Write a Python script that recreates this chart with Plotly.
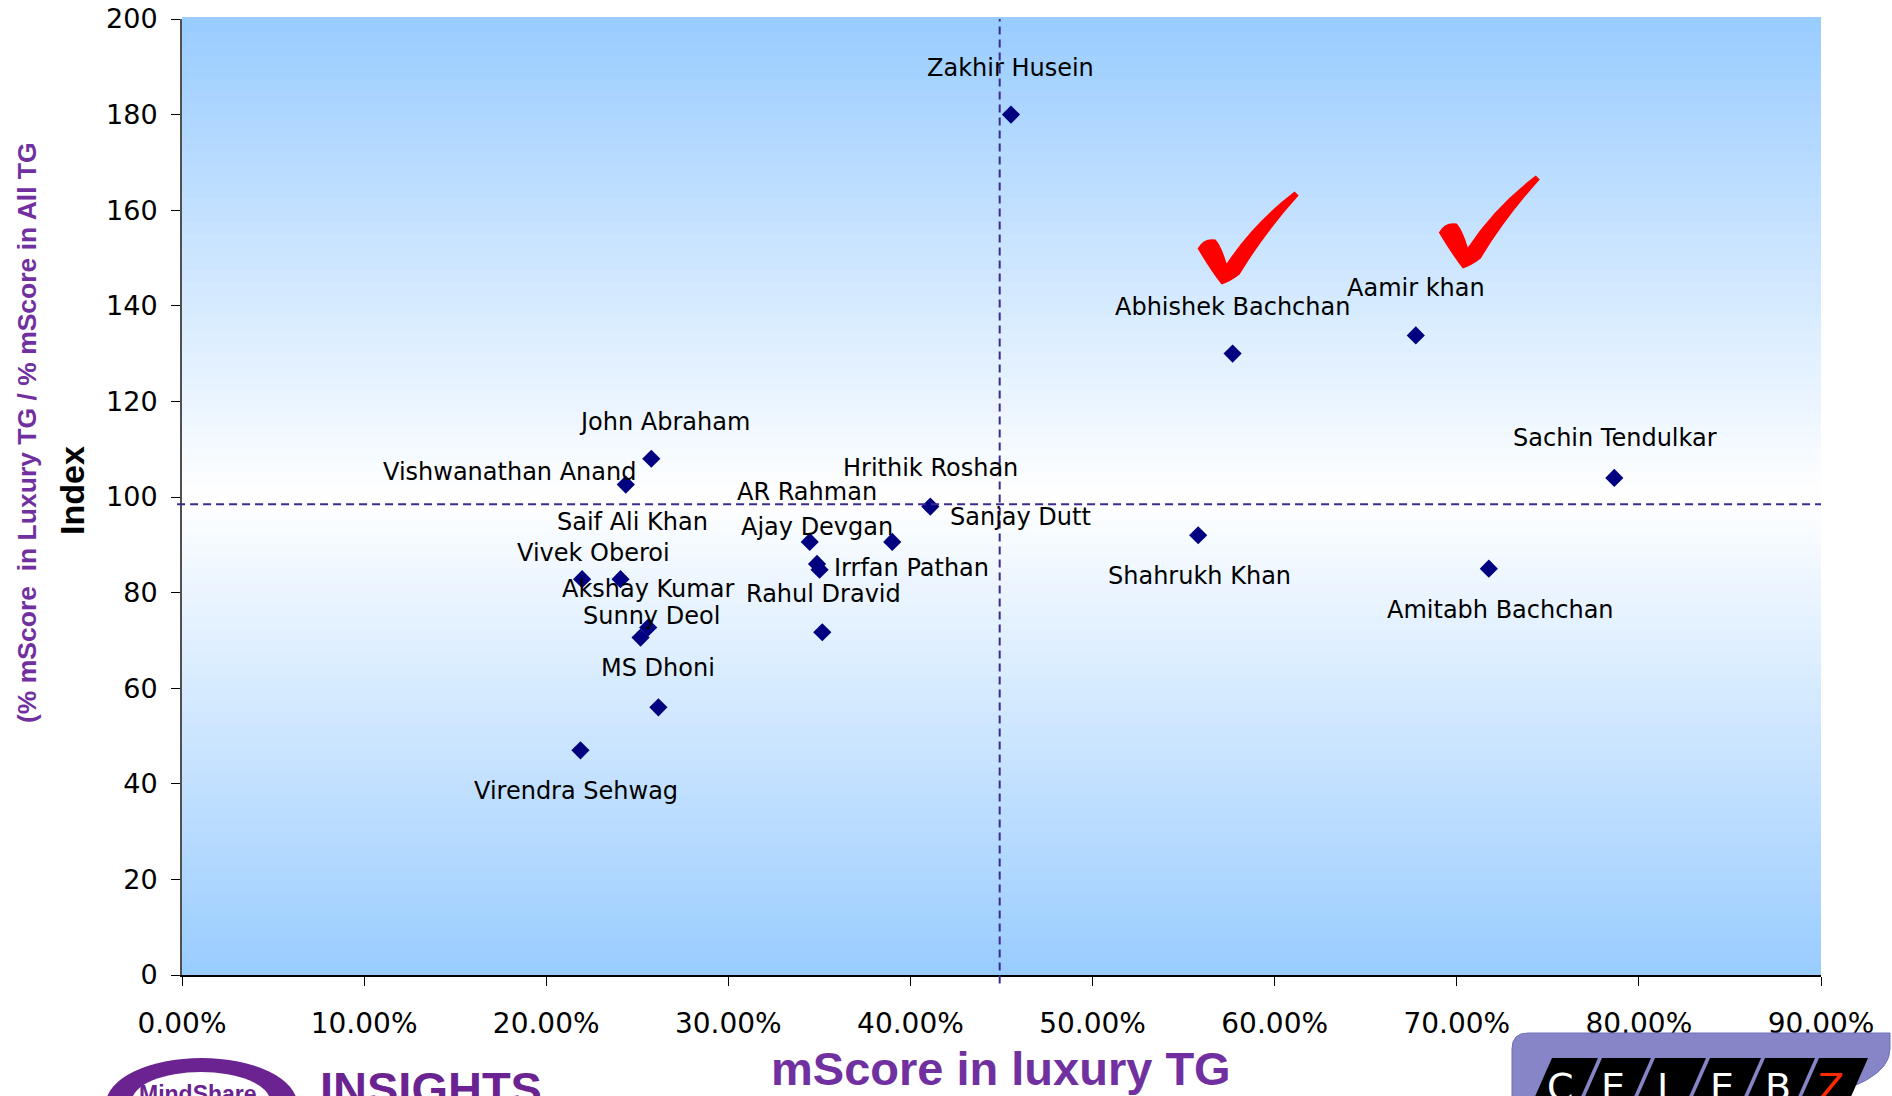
import plotly.graph_objects as go

# ---------------- data ----------------
names = ["Zakhir Husein", "Abhishek Bachchan", "Aamir khan", "Sachin Tendulkar",
         "Shahrukh Khan", "Amitabh Bachchan", "John Abraham", "Vishwanathan Anand",
         "Hrithik Roshan", "AR Rahman", "Sanjay Dutt", "Ajay Devgan", "Irrfan Pathan",
         "Rahul Dravid", "Vivek Oberoi", "Saif Ali Khan", "Akshay Kumar", "Sunny Deol",
         "MS Dhoni", "Virendra Sehwag"]
mscore_luxury = [0.4552, 0.5769, 0.6775, 0.7865, 0.558, 0.7176, 0.2577, 0.2437,
                 0.4109, 0.3447, 0.3900, 0.3487, 0.3501, 0.3516, 0.2197, 0.2408,
                 0.2560, 0.2518, 0.2616, 0.2188]
index_vals = [180, 130, 133.8, 104, 92, 85, 108, 102.6,
              98, 90.6, 90.6, 86, 84.8, 71.7, 82.8, 82.8,
              72.7, 70.6, 56, 47]
ref_x = 0.449      # vertical dashed reference
ref_y = 98.5       # horizontal dashed reference
x_ticks = [0.0, 0.1, 0.2, 0.3, 0.4, 0.5, 0.6, 0.7, 0.8, 0.9]
y_ticks = [0, 20, 40, 60, 80, 100, 120, 140, 160, 180, 200]
ticked = ["Abhishek Bachchan", "Aamir khan"]

# ---------------- styling ----------------
W, H = 1892, 1096
L, R, T, B = 182, 71, 19, 121
PW, PH = W - L - R, H - T - B

def px(x):
    return (x - L) / PW

def py(y):
    return (H - B - y) / PH

# label offsets in screen pixels (dx, dy downwards, anchor)
label_style = {
    "Zakhir Husein": (0, -47, "center"),
    "Abhishek Bachchan": (0, -47, "center"),
    "Aamir khan": (0, -47, "center"),
    "Sachin Tendulkar": (1, -40, "center"),
    "Shahrukh Khan": (1, 41, "center"),
    "Amitabh Bachchan": (12, 41, "center"),
    "John Abraham": (13, -37, "center"),
    "Vishwanathan Anand": (12, -13, "right"),
    "Hrithik Roshan": (0, -39, "center"),
    "AR Rahman": (-3, -50, "center"),
    "Sanjay Dutt": (56, -25, "left"),
    "Ajay Devgan": (0, -37, "center"),
    "Irrfan Pathan": (12, -2, "left"),
    "Rahul Dravid": (1, -38, "center"),
    "Vivek Oberoi": (11, -26, "center"),
    "Saif Ali Khan": (12, -57, "center"),
    "Akshay Kumar": (0, -38, "center"),
    "Sunny Deol": (11, -22, "center"),
    "MS Dhoni": (0, -39, "center"),
    "Virendra Sehwag": (-4, 41, "center"),
}
check_offsets = {"Abhishek Bachchan": (-11, 69), "Aamir khan": (47, 67)}

PURPLE = "#7030A0"
fig = go.Figure()

fig.add_trace(go.Scatter(
    x=mscore_luxury, y=index_vals, mode="markers",
    marker=dict(symbol="diamond", size=14, color="#000080"),
    hoverinfo="text", text=names, showlegend=False,
))

shapes = []
# gradient background bands
N = 80
c_edge = (153, 204, 255)
for i in range(N):
    f0, f1 = i / N, (i + 1) / N
    fm = (f0 + f1) / 2
    t = abs(fm - 0.5) * 2
    col = tuple(round(255 + (c - 255) * t) for c in c_edge)
    shapes.append(dict(type="rect", xref="paper", yref="paper", x0=0, x1=1,
                       y0=f0, y1=f1 + 0.002, layer="below", line=dict(width=0),
                       fillcolor="rgb(%d,%d,%d)" % col))

# dashed reference lines
shapes.append(dict(type="line", xref="paper", yref="y", x0=-0.003, x1=1, y0=ref_y, y1=ref_y,
                   line=dict(color="#3C2A8C", width=2, dash="8px,5px")))
shapes.append(dict(type="line", xref="x", yref="paper", x0=ref_x, x1=ref_x, y0=-0.009, y1=1,
                   line=dict(color="#3C2A8C", width=2, dash="8px,5px")))

# check marks (pixel-sized, anchored to their points)
def check_path(ox, oy):
    p = [("M", [(0, 0)]), ("Q", [(-11, 14), (-24, 36)]), ("Q", [(-18, 47), (-6, 45)]),
         ("Q", [(0, 38), (5, 21)]), ("Q", [(32, 62), (73, 93)]), ("L", [(77, 89)]),
         ("Q", [(42, 50), (18, 10)]), ("Q", [(9, 3), (0, 0)])]
    s = ""
    for cmd, pts in p:
        s += cmd + " " + " ".join("%g,%g" % (ox + a, oy + b) for a, b in pts) + " "
    return s + "Z"

for nm in ticked:
    k = names.index(nm)
    ox, oy = check_offsets[nm]
    shapes.append(dict(type="path", xref="x", yref="y", xsizemode="pixel", ysizemode="pixel",
                       xanchor=mscore_luxury[k], yanchor=index_vals[k],
                       path=check_path(ox, oy), fillcolor="#FF0000", line=dict(width=0),
                       layer="above"))

# --- MindShare logo (bottom-left)
shapes.append(dict(type="circle", xref="paper", yref="paper",
                   x0=px(106), x1=px(297), y0=py(1150), y1=py(1058),
                   fillcolor="#6B2391", line=dict(width=0)))
shapes.append(dict(type="circle", xref="paper", yref="paper",
                   x0=px(132), x1=px(270), y0=py(1130), y1=py(1072),
                   fillcolor="white", line=dict(width=0)))

# --- CELEBZ logo (bottom-right)
def rrect(x0, y0, x1, y1, r):
    return ("M %g,%g L %g,%g Q %g,%g %g,%g L %g,%g L %g,%g L %g,%g Q %g,%g %g,%g Z" % (
        px(x0), py(y0 + r), px(x0), py(y1), px(x1), py(y1), px(x1), py(y0 + r),
        px(x1), py(y0), px(x1 - r), py(y0), px(x0 + r), py(y0), px(x0), py(y0), px(x0), py(y0 + r)))

shapes.append(dict(type="path", xref="paper", yref="paper", path=rrect(1512, 1033, 1890, 1120, 16),
                   fillcolor="#8585C8", line=dict(color="#7070B8", width=1)))
box_edges = [(1552, 1598), (1602, 1651), (1655, 1706), (1710, 1761), (1765, 1815), (1819, 1868)]
slant = 0.44
for a, b in box_edges:
    yb = 1120
    d = slant * (yb - 1058)
    path = "M %g,%g L %g,%g L %g,%g L %g,%g Z" % (px(a), py(1058), px(b), py(1058),
                                                  px(b - d), py(yb), px(a - d), py(yb))
    shapes.append(dict(type="path", xref="paper", yref="paper", path=path,
                       fillcolor="black", line=dict(width=0)))

annotations = []
for nm, xv, yv in zip(names, mscore_luxury, index_vals):
    dx, dy, anc = label_style[nm]
    annotations.append(dict(x=xv, y=yv, xref="x", yref="y", text=nm, showarrow=False,
                            xshift=dx, yshift=-dy, xanchor=anc, yanchor="middle",
                            font=dict(family="DejaVu Sans", size=24, color="black")))

annotations.append(dict(x=px(1001), y=py(1068), xref="paper", yref="paper",
                        text="<b>mScore in luxury TG</b>", showarrow=False,
                        xanchor="center", yanchor="middle",
                        font=dict(family="Liberation Sans", size=47, color=PURPLE)))
annotations.append(dict(x=px(72), y=py(491), xref="paper", yref="paper",
                        text="<b>Index</b>", showarrow=False, textangle=-90,
                        xanchor="center", yanchor="middle",
                        font=dict(family="Liberation Sans", size=34, color="black")))
annotations.append(dict(x=px(27), y=py(433), xref="paper", yref="paper",
                        text="<b>(% mScore  in Luxury TG / % mScore in All TG</b>", showarrow=False,
                        textangle=-90, xanchor="center", yanchor="middle",
                        font=dict(family="Liberation Sans", size=26.5, color=PURPLE)))
# logo texts
annotations.append(dict(x=px(198), y=py(1079), xref="paper", yref="paper",
                        text="<b>MindShare</b>", showarrow=False, xanchor="center", yanchor="top",
                        font=dict(family="Liberation Sans", size=23, color="#6B2391")))
annotations.append(dict(x=px(318), y=py(1060), xref="paper", yref="paper",
                        text="<b>INSIGHTS</b>", showarrow=False, xanchor="left", yanchor="top",
                        font=dict(family="Liberation Sans", size=47, color="#6B2391")))
for ch, cx, col in zip("CELEBZ", [1560, 1613, 1667, 1722, 1778, 1831],
                       ["white", "white", "white", "white", "white", "#FF2A00"]):
    annotations.append(dict(x=px(cx), y=py(1063), xref="paper", yref="paper",
                            text=ch, showarrow=False, xanchor="center", yanchor="top",
                            font=dict(family="DejaVu Sans", size=38, color=col)))

fig.update_layout(
    width=W, height=H,
    margin=dict(l=L, r=R, t=T, b=B, pad=0),
    paper_bgcolor="white", plot_bgcolor="white",
    shapes=shapes, annotations=annotations,
    xaxis=dict(range=[0, 0.9], tickvals=x_ticks, tickformat=".2%", automargin=False,
               showgrid=False, zeroline=False, showline=True, linecolor="black", linewidth=2,
               ticks="outside", ticklen=9, tickcolor="black", tickwidth=1,
               ticklabelstandoff=13,
               tickfont=dict(family="DejaVu Sans", size=28, color="black")),
    yaxis=dict(range=[0, 200], tickvals=y_ticks, automargin=False,
               showgrid=False, zeroline=False, showline=True, linecolor="#505050", linewidth=2,
               ticks="outside", ticklen=9, tickcolor="black", tickwidth=1,
               ticklabelstandoff=8,
               tickfont=dict(family="DejaVu Sans", size=27, color="black")),
)

fig.write_html("out.html")
